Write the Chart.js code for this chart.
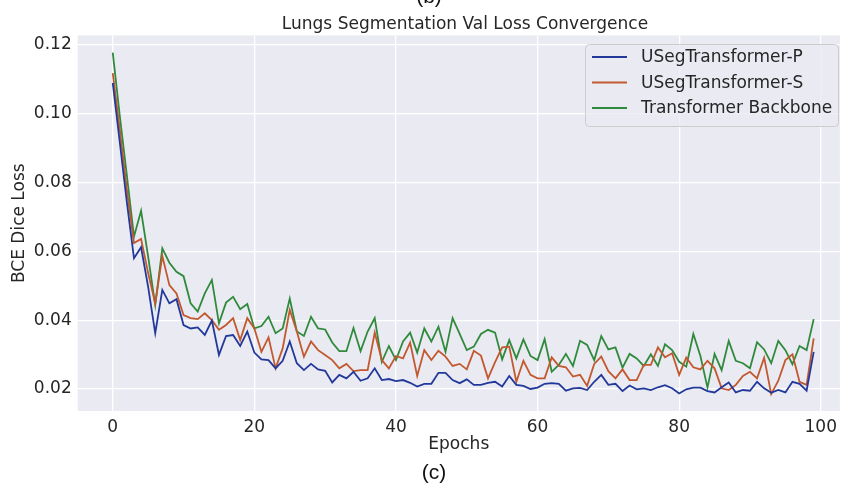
<!DOCTYPE html>
<html>
<head>
<meta charset="utf-8">
<script src="https://cdn.jsdelivr.net/npm/chart.js@4.4.1/dist/chart.umd.min.js"></script>
<style>
  html, body { margin: 0; padding: 0; background: #ffffff; overflow: hidden; }
  canvas { display: block; }
</style>
</head>
<body>
<canvas id="lossChart" width="843" height="488"></canvas>
<script>
// Validation loss per epoch (0..99) for each model
const lossP = [
  0.1090, 0.0916, 0.0742, 0.0580, 0.0612, 0.0497, 0.0362, 0.0488, 0.0449, 0.0461,
  0.0386, 0.0376, 0.0379, 0.0357, 0.0399, 0.0299, 0.0354, 0.0357, 0.0325, 0.0367,
  0.0306, 0.0286, 0.0284, 0.0260, 0.0282, 0.0338, 0.0275, 0.0255, 0.0273, 0.0257,
  0.0253, 0.0219, 0.0241, 0.0231, 0.0250, 0.0224, 0.0231, 0.0260, 0.0226, 0.0229,
  0.0223, 0.0226, 0.0218, 0.0207, 0.0215, 0.0215, 0.0247, 0.0247, 0.0226, 0.0217,
  0.0228, 0.0212, 0.0212, 0.0218, 0.0221, 0.0207, 0.0238, 0.0212, 0.0209, 0.0200,
  0.0204, 0.0215, 0.0217, 0.0215, 0.0195, 0.0202, 0.0203, 0.0197, 0.0221, 0.0241,
  0.0212, 0.0215, 0.0194, 0.0210, 0.0199, 0.0202, 0.0197, 0.0205, 0.0211, 0.0202,
  0.0187, 0.0199, 0.0204, 0.0204, 0.0194, 0.0190, 0.0205, 0.0219, 0.0190, 0.0197,
  0.0195, 0.0221, 0.0202, 0.0189, 0.0197, 0.0190, 0.0221, 0.0215, 0.0195, 0.0308
];
const lossS = [
  0.1118, 0.0953, 0.0778, 0.0624, 0.0636, 0.0537, 0.0449, 0.0587, 0.0502, 0.0478,
  0.0415, 0.0406, 0.0403, 0.0420, 0.0400, 0.0372, 0.0386, 0.0406, 0.0342, 0.0406,
  0.0376, 0.0308, 0.0350, 0.0260, 0.0318, 0.0430, 0.0367, 0.0294, 0.0338, 0.0313,
  0.0299, 0.0284, 0.0260, 0.0273, 0.0252, 0.0255, 0.0255, 0.0364, 0.0284, 0.0260,
  0.0296, 0.0289, 0.0335, 0.0238, 0.0313, 0.0284, 0.0311, 0.0294, 0.0267, 0.0273,
  0.0257, 0.0311, 0.0297, 0.0231, 0.0278, 0.0321, 0.0323, 0.0221, 0.0282, 0.0241,
  0.0231, 0.0231, 0.0292, 0.0267, 0.0263, 0.0236, 0.0241, 0.0209, 0.0273, 0.0294,
  0.0252, 0.0231, 0.0257, 0.0226, 0.0226, 0.0270, 0.0270, 0.0321, 0.0292, 0.0304,
  0.0241, 0.0291, 0.0263, 0.0257, 0.0282, 0.0260, 0.0202, 0.0197, 0.0212, 0.0238,
  0.0250, 0.0231, 0.0291, 0.0185, 0.0224, 0.0284, 0.0301, 0.0221, 0.0212, 0.0347
];
const lossBackbone = [
  0.1178, 0.0993, 0.0820, 0.0643, 0.0718, 0.0585, 0.0444, 0.0609, 0.0567, 0.0541,
  0.0528, 0.0449, 0.0425, 0.0478, 0.0517, 0.0391, 0.0451, 0.0468, 0.0432, 0.0447,
  0.0376, 0.0383, 0.0410, 0.0362, 0.0376, 0.0463, 0.0367, 0.0354, 0.0410, 0.0376,
  0.0373, 0.0335, 0.0310, 0.0310, 0.0377, 0.0310, 0.0367, 0.0406, 0.0279, 0.0325,
  0.0284, 0.0338, 0.0364, 0.0306, 0.0376, 0.0338, 0.0381, 0.0308, 0.0406, 0.0360,
  0.0313, 0.0323, 0.0360, 0.0372, 0.0364, 0.0286, 0.0342, 0.0289, 0.0344, 0.0296,
  0.0284, 0.0345, 0.0250, 0.0270, 0.0302, 0.0267, 0.0340, 0.0328, 0.0284, 0.0354,
  0.0315, 0.0321, 0.0262, 0.0302, 0.0289, 0.0267, 0.0301, 0.0267, 0.0330, 0.0313,
  0.0279, 0.0265, 0.0360, 0.0296, 0.0204, 0.0302, 0.0255, 0.0340, 0.0282, 0.0275,
  0.0260, 0.0336, 0.0315, 0.0275, 0.0340, 0.0313, 0.0272, 0.0325, 0.0313, 0.0403
];
const seriesNames = ['USegTransformer-P', 'USegTransformer-S', 'Transformer Backbone'];
const xTicks = [0, 20, 40, 60, 80, 100];
const yTicks = [0.02, 0.04, 0.06, 0.08, 0.10, 0.12];

const TEXT = '#262626';
const FONT = 'DejaVu Sans';
const colors = ['#22399a', '#c2582e', '#2f8a3c'];

const toPoints = arr => arr.map((v, i) => ({ x: i, y: v }));

// title, legend box and the panel letters
const decorations = {
  id: 'decorations',
  afterDraw(chart) {
    const ctx = chart.ctx;
    ctx.save();
    ctx.fillStyle = TEXT;
    ctx.font = '17px "' + FONT + '"';
    ctx.textAlign = 'center';
    ctx.textBaseline = 'alphabetic';
    ctx.fillText('Lungs Segmentation Val Loss Convergence', 465, 29);

    ctx.fillStyle = '#111';
    ctx.font = '21px "Liberation Sans"';
    ctx.textBaseline = 'middle';
    ctx.fillText('(b)', 429, -3);
    ctx.fillText('(c)', 434, 473);

    // legend
    const bx = 585, by = 44, bw = 253, bh = 82;
    ctx.beginPath();
    ctx.roundRect(bx + 0.5, by + 0.5, bw, bh, 4);
    ctx.fillStyle = 'rgba(234,234,242,0.8)';
    ctx.fill();
    ctx.strokeStyle = '#cccccc';
    ctx.lineWidth = 1;
    ctx.stroke();

    ctx.font = '17px "' + FONT + '"';
    ctx.textAlign = 'left';
    chart.data.datasets.forEach((ds, i) => {
      const y = 57 + i * 25.5;
      ctx.beginPath();
      ctx.moveTo(592, y);
      ctx.lineTo(627, y);
      ctx.strokeStyle = ds.borderColor;
      ctx.lineWidth = 1.8;
      ctx.stroke();
      ctx.fillStyle = TEXT;
      ctx.fillText(ds.label, 641, y + 1);
    });
    ctx.restore();
  }
};

const plotBackground = {
  id: 'plotBackground',
  beforeDraw(chart) {
    const { ctx, chartArea } = chart;
    ctx.save();
    ctx.fillStyle = '#eaeaf2';
    ctx.fillRect(chartArea.left, chartArea.top, chartArea.right - chartArea.left, chartArea.bottom - chartArea.top);
    ctx.restore();
  }
};

new Chart(document.getElementById('lossChart'), {
  type: 'line',
  data: {
    datasets: [lossP, lossS, lossBackbone].map((arr, i) => ({
      label: seriesNames[i],
      data: toPoints(arr),
      borderColor: colors[i],
      backgroundColor: colors[i],
      borderWidth: 1.8,
      pointRadius: 0,
      tension: 0,
      fill: false
    }))
  },
  options: {
    responsive: false,
    animation: false,
    devicePixelRatio: 1,
    layout: { padding: { top: 35.4, left: 0, right: 0, bottom: 0 } },
    plugins: {
      legend: { display: false },
      title: { display: false },
      tooltip: { enabled: false }
    },
    scales: {
      x: {
        type: 'linear',
        min: -4.95,
        max: 102.7,
        afterFit: s => { s.height = 77; },
        afterBuildTicks: s => { s.ticks = xTicks.map(v => ({ value: v })); },
        grid: { color: '#ffffff', lineWidth: 1.3, drawTicks: false },
        border: { display: false },
        ticks: { color: TEXT, font: { family: FONT, size: 17 }, padding: 6, maxRotation: 0 },
        title: {
          display: true, text: 'Epochs', color: TEXT,
          font: { family: FONT, size: 17 }, padding: { top: 0, bottom: 33 }
        }
      },
      y: {
        min: 0.0136,
        max: 0.1228,
        afterFit: s => { s.width = 77.7; },
        afterBuildTicks: s => { s.ticks = yTicks.map(v => ({ value: v })); },
        grid: { color: '#ffffff', lineWidth: 1.3, drawTicks: false },
        border: { display: false },
        ticks: {
          color: TEXT, font: { family: FONT, size: 17 }, padding: 6,
          callback: v => v.toFixed(2)
        },
        title: {
          display: true, text: 'BCE Dice Loss', color: TEXT,
          font: { family: FONT, size: 17 }, padding: { top: 9, bottom: 0 }
        }
      }
    }
  },
  plugins: [plotBackground, decorations]
});
</script>
</body>
</html>
